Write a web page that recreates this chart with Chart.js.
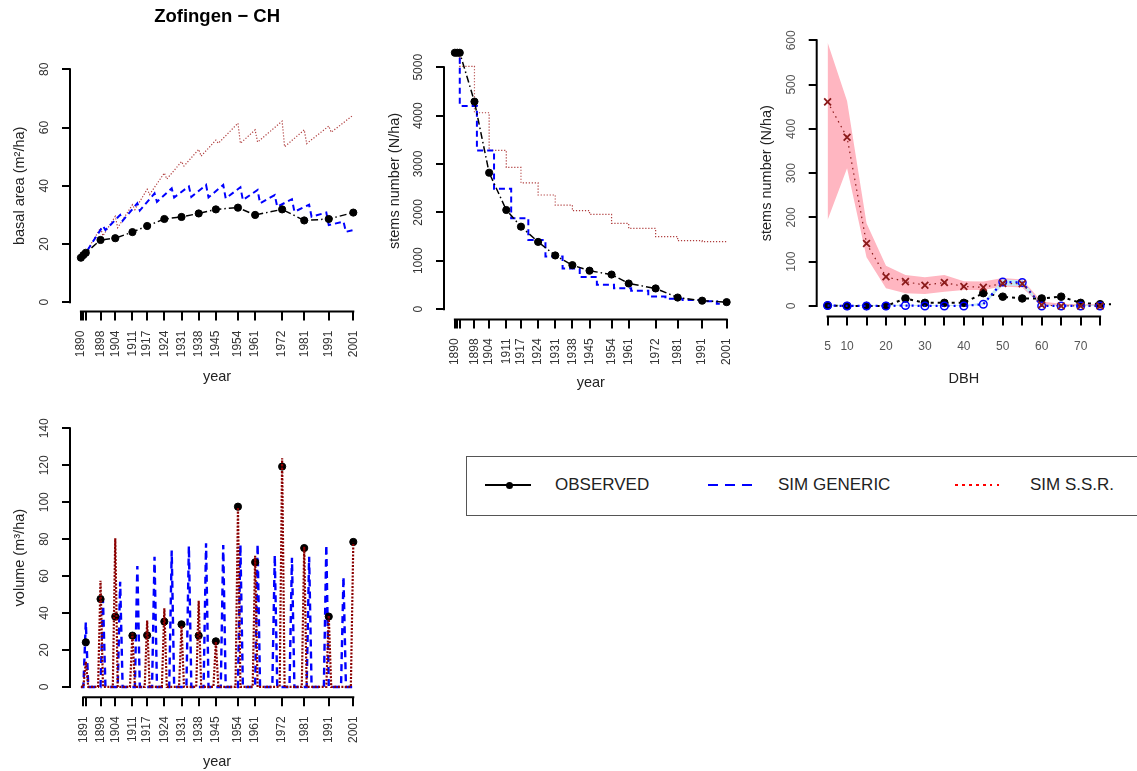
<!DOCTYPE html>
<html>
<head>
<meta charset="utf-8">
<script src="https://cdn.jsdelivr.net/npm/chart.js@4.4.1/dist/chart.umd.min.js"></script>
<style>
body { margin: 0; background: #fff; width: 1137px; height: 771px; overflow: hidden; position: relative; font-family: "Liberation Sans", Arial, sans-serif; }
canvas { position: absolute; }
.lt { position: absolute; top: 475px; line-height: 20px; font-size: 17px; color: #222; white-space: nowrap; }
.ln { position: absolute; top: 484px; height: 2px; }
</style>
</head>
<body>
<canvas id="ba" width="390" height="395" style="left:0;top:0"></canvas>
<canvas id="stems" width="380" height="395" style="left:380px;top:0"></canvas>
<canvas id="dbh" width="387" height="395" style="left:750px;top:0"></canvas>
<canvas id="vol" width="390" height="371" style="left:0;top:400px"></canvas>

<div style="position:absolute;left:466px;top:456px;width:720px;height:60px;border:1px solid #555;box-sizing:border-box"></div>
<div class="ln" style="left:485px;width:46px;background:#000"></div>
<div style="position:absolute;left:506px;top:481.5px;width:7px;height:7px;border-radius:50%;background:#000"></div>
<span class="lt" style="left:555px">OBSERVED</span>
<div class="ln" style="left:708px;width:46px;background:repeating-linear-gradient(to right,#0000ff 0 10px,transparent 10px 17px)"></div>
<span class="lt" style="left:778px">SIM GENERIC</span>
<div class="ln" style="left:955px;width:44px;background:repeating-linear-gradient(to right,#ff0000 0 2.5px,transparent 2.5px 7px)"></div>
<span class="lt" style="left:1030px">SIM S.S.R.</span>

<script>
const FONT = '"Liberation Sans", Arial, sans-serif';
const TICK_SIZE = 12;

// tick positions
const yearTicks = [1890, 1891, 1892, 1898, 1904, 1911, 1917, 1924, 1931, 1938, 1945, 1954, 1961, 1972, 1981, 1991, 2001];
const volTicks = [1891, 1892, 1898, 1904, 1911, 1917, 1924, 1931, 1938, 1945, 1954, 1961, 1972, 1981, 1991, 2001];
const dbhTicks = [5, 10, 15, 20, 25, 30, 35, 40, 45, 50, 55, 60, 65, 70, 75];

// observed inventories
const obsYears = [1890, 1891, 1892, 1898, 1904, 1911, 1917, 1924, 1931, 1938, 1945, 1954, 1961, 1972, 1981, 1991, 2001];
const baObs = [15.3, 16.2, 17.0, 21.4, 22.0, 24.1, 26.2, 28.6, 29.3, 30.5, 31.9, 32.5, 30.0, 31.9, 28.1, 28.6, 30.8];
const stemsObs = [5300, 5300, 5300, 4290, 2820, 2050, 1705, 1390, 1110, 910, 795, 715, 530, 428, 240, 175, 145];

// basal area, simulated (vertices of the sawtooth)
const genBaYears = [1890, 1892, 1899, 1900, 1906, 1907, 1913, 1914, 1920, 1921, 1927, 1928, 1934, 1935, 1941, 1942, 1948, 1949, 1955, 1956, 1962, 1963, 1969, 1970, 1976, 1977, 1983, 1984, 1990, 1991, 1997, 1998, 2001];
const genBaVals = [15.3, 17.0, 26.2, 24.8, 30.0, 28.0, 34.0, 31.5, 37.4, 34.5, 39.1, 36.0, 39.8, 36.2, 40.3, 36.0, 40.3, 35.7, 39.5, 35.1, 38.6, 34.0, 36.8, 32.8, 35.4, 31.1, 33.5, 29.4, 30.8, 26.5, 27.7, 24.2, 24.8];
const ssrBaYears = [1890, 1892, 1898, 1899, 1904, 1905, 1911, 1912, 1917, 1918, 1924, 1925, 1931, 1932, 1938, 1939, 1945, 1946, 1954, 1955, 1961, 1962, 1972, 1973, 1981, 1982, 1991, 1992, 2001];
const ssrBaVals = [15.3, 17.0, 25.5, 22.8, 29.5, 25.6, 33.5, 31.8, 38.8, 37.0, 44.4, 42.3, 48.3, 46.8, 52.5, 50.2, 55.7, 54.6, 61.5, 54.6, 59.2, 55.0, 62.2, 53.4, 59.2, 54.5, 60.5, 58.4, 64.3];

// stems number, simulated (level after each thinning)
const genStemYears = [1890, 1892, 1899, 1906, 1913, 1920, 1927, 1934, 1941, 1948, 1955, 1962, 1969, 1976, 1983, 1990, 1997, 2001];
const genStemVals = [5300, 4200, 3280, 2490, 1880, 1430, 1090, 840, 665, 505, 430, 380, 260, 215, 190, 165, 110, 110];
const ssrStemYears = [1890, 1892, 1898, 1904, 1911, 1917, 1924, 1931, 1938, 1945, 1954, 1961, 1972, 1981, 1991, 2001];
const ssrStemVals = [5300, 5020, 4060, 3280, 2930, 2610, 2360, 2150, 2035, 1960, 1775, 1670, 1500, 1415, 1395, 1395];

// diameter distribution
const dbh = [5, 10, 15, 20, 25, 30, 35, 40, 45, 50, 55, 60, 65, 70, 75];
const dbhObs = [5, 10, 15, 20, 25, 30, 35, 40, 45, 50, 55, 60, 65, 70, 75, 80];
const nObs = [1, 0, 0, 0, 17, 7, 7, 7, 29, 21, 17, 17, 21, 7, 4, 4];
const nGen = [1, 0, 0, 0, 1, 0, 0, 0, 4, 54, 53, 0, 0, 0, 0];
const nGenLo = [0, 0, 0, 0, 0, 0, 0, 0, 1, 46, 45, 0, 0, 0, 0];
const nGenHi = [3, 2, 2, 2, 3, 2, 2, 2, 8, 60, 58, 3, 2, 2, 2];
const nSsr = [461, 381, 141, 66, 55, 47, 53, 44, 42, 51, 50, 2, 0, 0, 0];
const nSsrLo = [194, 311, 110, 40, 29, 27, 32, 36, 36, 44, 42, 0, 0, 0, 0];
const nSsrHi = [595, 463, 187, 91, 70, 65, 70, 56, 55, 63, 60, 10, 5, 4, 4];

// harvested volume
const volYears = [1892, 1898, 1904, 1911, 1917, 1924, 1931, 1938, 1945, 1954, 1961, 1972, 1981, 1991, 2001];
const volObs = [24.2, 47.6, 38.1, 27.8, 28.0, 35.4, 33.9, 27.8, 24.7, 97.6, 67.5, 119.3, 75.2, 38.1, 78.5];
const volSsr = [13.7, 57.5, 80.5, 29.0, 36.0, 42.6, 33.0, 46.7, 24.5, 97.2, 71.0, 123.8, 76.0, 38.6, 78.3];
const genVolYears = [1892, 1899, 1906, 1913, 1920, 1927, 1934, 1941, 1948, 1955, 1962, 1969, 1976, 1983, 1990, 1997];
const volGen = [35.0, 47.4, 57.0, 65.5, 70.5, 73.8, 76.3, 77.8, 76.9, 77.0, 77.4, 71.4, 70.0, 70.5, 76.9, 59.7];
const firstYear = 1890, lastYear = 2001;

const pts = (xs, ys) => xs.map((x, i) => ({x: x, y: ys[i]}));
// yearly series: volume in harvest years, nothing removed otherwise
const yearly = (yrs, vals) => {
    const out = [];
    for (let y = firstYear; y <= lastYear; y++) {
        const i = yrs.indexOf(y);
        out.push({x: y, y: i < 0 ? 0 : vals[i]});
    }
    return out;
};

function yPad(labels) {
    const c = document.createElement('canvas').getContext('2d');
    c.font = TICK_SIZE + 'px ' + FONT;
    const w = Math.max(...labels.map(l => c.measureText(String(l)).width));
    return 17 - w / 2;
}

// R style axes: line only between first and last tick
const rAxes = {
    id: 'rAxes',
    afterDraw(chart) {
        const ctx = chart.ctx, x = chart.scales.x, y = chart.scales.y;
        const xt = x.ticks.map(t => t.value), yt = y.ticks.map(t => t.value);
        ctx.save();
        ctx.strokeStyle = '#000';
        ctx.lineWidth = 2;
        ctx.lineCap = 'square';
        ctx.beginPath();
        ctx.moveTo(x.getPixelForValue(Math.min(...xt)), x.top);
        ctx.lineTo(x.getPixelForValue(Math.max(...xt)), x.top);
        ctx.moveTo(y.right, y.getPixelForValue(Math.min(...yt)));
        ctx.lineTo(y.right, y.getPixelForValue(Math.max(...yt)));
        ctx.stroke();
        ctx.restore();
    }
};

function scales(o) {
    return {
        x: {
            type: 'linear', min: o.xMin, max: o.xMax,
            afterBuildTicks: s => { s.ticks = o.xTicks.map(v => ({value: v})); },
            afterFit: s => { s.height = o.xH; },
            border: {display: false},
            grid: {drawOnChartArea: false, tickLength: 9, color: '#000', lineWidth: 2},
            ticks: {autoSkip: false, minRotation: o.xRot, maxRotation: o.xRot, padding: o.xPad,
                color: o.tickColor, font: {size: TICK_SIZE}, callback: v => o.xShow(v) ? String(v) : ''},
            title: {display: true, text: o.xTitle, color: '#222', font: {size: 14.5}, padding: {top: 0, bottom: o.xTitlePad}}
        },
        y: {
            type: 'linear', min: o.yMin, max: o.yMax,
            afterBuildTicks: s => { s.ticks = o.yTicks.map(v => ({value: v})); },
            afterFit: s => { s.width = o.yW; },
            border: {display: false},
            grid: {drawOnChartArea: false, tickLength: 8, color: '#000', lineWidth: 2},
            ticks: {minRotation: 90, maxRotation: 90, crossAlign: 'center', padding: yPad(o.yTicks),
                color: o.tickColor, font: {size: TICK_SIZE}, callback: v => String(v)},
            title: {display: true, text: o.yTitle, color: '#222', font: {size: 14.5}, padding: {top: o.yTitlePad, bottom: 0}}
        }
    };
}

Chart.defaults.font.family = FONT;
const base = {
    responsive: false, animation: false, devicePixelRatio: 1, events: [],
    elements: {line: {tension: 0}},
};
const noLegend = {legend: {display: false}, tooltip: {enabled: false}};

const obsStyle = {borderColor: '#000', borderWidth: 1.5, borderDash: [7, 3, 1.5, 3],
    pointRadius: 3.6, pointBackgroundColor: '#000', pointBorderColor: '#000', pointBorderWidth: 1};
const genStyle = {borderColor: '#0000ff', borderWidth: 2, borderDash: [6, 4], pointRadius: 0};
const ssrStyle = {borderColor: 'rgb(175,60,60)', borderWidth: 1.2, borderDash: [1.2, 1.8], pointRadius: 0};

// basal area
new Chart(document.getElementById('ba'), {
    type: 'line',
    data: {datasets: [
        Object.assign({data: pts(obsYears, baObs)}, obsStyle),
        Object.assign({data: pts(genBaYears, genBaVals)}, genStyle),
        Object.assign({data: pts(ssrBaYears, ssrBaVals)}, ssrStyle)
    ]},
    options: Object.assign({}, base, {
        layout: {padding: {top: 0, right: 25.8, left: 0, bottom: 0}},
        plugins: Object.assign({}, noLegend, {
            title: {display: true, text: 'Zofingen \u2212 CH', fullSize: false, color: '#000',
                font: {size: 18.5, weight: 'bold'}, padding: {top: 5.9, bottom: 31.9}}
        }),
        scales: scales({xMin: 1885.56, xMax: 2005.44, xTicks: yearTicks, xShow: v => v !== 1891 && v !== 1892,
            xRot: 90, xPad: 10, xH: 83.4, xTitle: 'year', xTitlePad: 9.4,
            yMin: -3.2, yMax: 83.2, yTicks: [0, 20, 40, 60, 80], yW: 70,
            yTitle: 'basal area (m\u00b2/ha)', yTitlePad: 10.8, tickColor: '#333'})
    }),
    plugins: [rAxes]
});

// stems number
new Chart(document.getElementById('stems'), {
    type: 'line',
    data: {datasets: [
        Object.assign({data: pts(obsYears, stemsObs)}, obsStyle),
        Object.assign({data: pts(genStemYears, genStemVals), stepped: true}, genStyle),
        Object.assign({data: pts(ssrStemYears, ssrStemVals), stepped: true}, ssrStyle)
    ]},
    options: Object.assign({}, base, {
        layout: {padding: {top: 42.5, right: 22.5, left: 0, bottom: 0}},
        plugins: noLegend,
        scales: scales({xMin: 1885.56, xMax: 2005.44, xTicks: yearTicks, xShow: v => v !== 1891 && v !== 1892,
            xRot: 90, xPad: 10, xH: 75.6, xTitle: 'year', xTitlePad: 3.4,
            yMin: -212, yMax: 5512, yTicks: [0, 1000, 2000, 3000, 4000, 5000], yW: 64,
            yTitle: 'stems number (N/ha)', yTitlePad: 6.3, tickColor: '#333'})
    }),
    plugins: [rAxes]
});

// diameter distribution
new Chart(document.getElementById('dbh'), {
    type: 'line',
    data: {datasets: [
        {data: pts(dbh, nSsr), borderColor: '#8B1A1A', borderWidth: 1.2, borderDash: [1.5, 4],
            pointStyle: 'crossRot', pointRadius: 4.8, pointBorderColor: '#8B1A1A', pointBorderWidth: 1.8},
        {data: pts(dbh, nGen), borderColor: '#0000ff', borderWidth: 2.2, borderDash: [2, 4],
            pointRadius: 3.8, pointBackgroundColor: 'rgba(0,0,0,0)', pointBorderColor: '#0000ff', pointBorderWidth: 1.5},
        {data: pts(dbhObs, nObs), borderColor: '#000', borderWidth: 2, borderDash: [3, 4],
            pointRadius: 3.8, pointBackgroundColor: '#000', pointBorderColor: '#000', pointBorderWidth: 1},
        {data: pts(dbh, nGenLo), borderWidth: 0, pointRadius: 0, fill: false},
        {data: pts(dbh, nGenHi), borderWidth: 0, pointRadius: 0, fill: '-1', backgroundColor: '#C4E9F1'},
        {data: pts(dbh, nSsrLo), borderWidth: 0, pointRadius: 0, fill: false},
        {data: pts(dbh, nSsrHi), borderWidth: 0, pointRadius: 0, fill: '-1', backgroundColor: '#FFB6C1'}
    ]},
    options: Object.assign({}, base, {
        layout: {padding: {top: 29.7, right: 26, left: 0, bottom: 0}},
        plugins: noLegend,
        scales: scales({xMin: 2.2, xMax: 77.8, xTicks: dbhTicks, xShow: v => v === 5 || v % 10 === 0,
            xRot: 0, xPad: 13.4, xH: 78.4, xTitle: 'DBH', xTitlePad: 7.1,
            yMin: -24, yMax: 624, yTicks: [0, 100, 200, 300, 400, 500, 600], yW: 66.7,
            yTitle: 'stems number (N/ha)', yTitlePad: 8.0, tickColor: '#555'})
    }),
    plugins: [rAxes]
});

// harvested volume
new Chart(document.getElementById('vol'), {
    type: 'line',
    data: {datasets: [
        {data: yearly(volYears, volSsr), borderColor: '#8B0000', borderWidth: 2.2, borderDash: [2, 1.5], pointRadius: 0},
        {data: pts(volYears, volObs), showLine: false, pointRadius: 3.6, pointBackgroundColor: '#000',
            pointBorderColor: '#000', pointBorderWidth: 1},
        {data: yearly(genVolYears, volGen), borderColor: '#0000ff', borderWidth: 2.4, borderDash: [7, 5], pointRadius: 0}
    ]},
    options: Object.assign({}, base, {
        layout: {padding: {top: 18, right: 25.8, left: 0, bottom: 0}},
        plugins: noLegend,
        scales: scales({xMin: 1885.56, xMax: 2005.44, xTicks: volTicks, xShow: v => v !== 1892,
            xRot: 90, xPad: 10, xH: 73.7, xTitle: 'year', xTitlePad: 0.4,
            yMin: -5.6, yMax: 145.6, yTicks: [0, 20, 40, 60, 80, 100, 120, 140], yW: 70,
            yTitle: 'volume (m\u00b3/ha)', yTitlePad: 11.3, tickColor: '#333'})
    }),
    plugins: [rAxes]
});
</script>
</body>
</html>
